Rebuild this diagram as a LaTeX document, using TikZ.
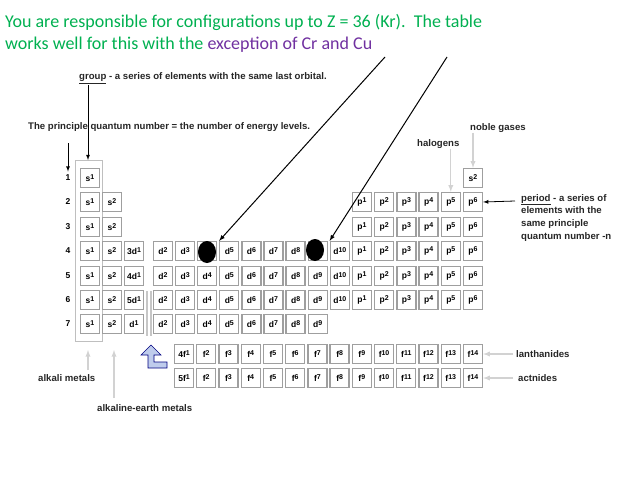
\documentclass[tikz,border=0pt]{standalone}
\usepackage{fontspec}
\setmainfont{Carlito}
\newfontfamily\lab{Liberation Sans}
\newcommand{\sx}[2]{#1\raisebox{2.5pt}{\fontsize{7}{7}\selectfont #2}}
\begin{document}
\begin{tikzpicture}[x=1pt,y=-1pt,
  cell/.style={draw=gray!75,line width=1.3pt,minimum width=19pt,minimum height=19pt,inner sep=0pt,font=\lab\bfseries\fontsize{8.5}{9}\selectfont,fill=white},
  lbl/.style={font=\lab\bfseries\fontsize{9.6}{11}\selectfont,inner sep=0pt,anchor=west,text=black!85},
  garr/.style={draw=gray!35,line width=1.3pt,-latex},
  barr/.style={draw=black,line width=0.8pt,-latex}]
\useasboundingbox (0,0) rectangle (638,479);
\definecolor{tgreen}{RGB}{0,176,80}
\definecolor{tpurple}{RGB}{112,48,160}
\node[anchor=west,inner sep=0pt,text=tgreen,font=\fontsize{18}{20}\selectfont] (t1) at (5,22) {You are responsible for configurations up to Z = 36 (Kr).\ \ The table};
\node[anchor=west,inner sep=0pt,text=tgreen,font=\fontsize{18}{20}\selectfont] (t2) at (5,45) {works well for this with the \textcolor{tpurple}{exception of Cr and Cu}};
% alkali outline
\draw[gray!50,line width=0.8pt] (75,160) rectangle (102,341);
% rows labels
\foreach \r/\y in {1/178,2/202,3/227,4/251,5/276,6/300,7/324}{
  \node[font=\lab\bfseries\fontsize{8.5}{9}\selectfont] (n\r) at (68,\y) {\r};}
% s block
\foreach \r/\y in {1/178,2/202,3/227,4/251,5/276,6/300,7/324}{
  \node[cell] (sa\r) at (90,\y) {\sx{s}{1}};}
\foreach \r/\y in {2/202,3/227,4/251,5/276,6/300,7/324}{
  \node[cell] (sb\r) at (112,\y) {\sx{s}{2}};}
\node[cell] (dd4) at (134,251) {\sx{3d}{1}};
\node[cell] (dd5) at (134,276) {\sx{4d}{1}};
\node[cell] (dd6) at (134,300) {\sx{5d}{1}};
\node[cell] (dd7) at (134,324) {\sx{d}{1}\hspace{4pt}};
% d block
\foreach \r/\y in {4/251,5/276,6/300}{
  \foreach \k in {2,...,10}{
    \node[cell] (d\r-\k) at ({163+22.1*(\k-2)},\y) {\sx{d}{\k}};}}
\foreach \k in {2,...,9}{
  \node[cell] (d7-\k) at ({163+22.1*(\k-2)},324) {\sx{d}{\k}};}
% p block
\foreach \r/\y in {2/202,3/227,4/251,5/276,6/300}{
  \foreach \k in {1,...,6}{
    \node[cell] (p\r-\k) at ({362+22.2*(\k-1)},\y) {\sx{p}{\k}};}}
\node[cell] (he) at (473,178) {\sx{s}{2}};
% gray bars
\fill[gray!45] (146,291) rectangle (148,336);
\fill[gray!45] (150,291) rectangle (152,336);
% f block
\node[cell] (fa1) at (184,354) {\sx{4f}{1}};
\node[cell] (fb1) at (184,378) {\sx{5f}{1}};
\foreach \k in {2,...,14}{
  \node[cell] (fa\k) at ({184+22.23*(\k-1)},354) {\sx{f}{\k}};
  \node[cell] (fb\k) at ({184+22.23*(\k-1)},378) {\sx{f}{\k}};}
% blue L arrow
\draw[fill=cyan!45!blue!25,draw=blue!50!black,line width=0.6pt]
 (148,355) -- (141,355) -- (151,345) -- (161,355) -- (154,355) -- (154,362) -- (167,362) -- (167,368) -- (148,368) -- cycle;
% blobs
\fill[black] (207,252) ellipse (9pt and 11pt);
\fill[black] (315,250) ellipse (9pt and 11pt);
% labels
\node[lbl] (grp) at (79,78) {\underline{group} - a series of elements with the same last orbital.};
\node[lbl] (pqn) at (28,127) {The principle quantum number = the number of energy levels.};
\coordinate (pqa) at (68,143);
\coordinate (ga) at (88,85);
\coordinate (gb) at (88,160);
\draw[barr] (pqa) -- (n1.north);
\draw[barr] (ga) -- (gb);
\node[lbl] (hal) at (417,144) {halogens};
\node[lbl] (nob) at (470,128) {noble gases};
\draw[garr] (hal.south -| p2-5.north) -- (p2-5.north);
\draw[garr] (nob.south -| he.north) -- (he.north);
\node[lbl,align=left,anchor=north west,font=\lab\bfseries\fontsize{9.6}{12.7}\selectfont] (per) at (521,194) {\underline{period} - a series of\\elements with the\\same principle\\quantum number -n};
\coordinate (pa) at (515,201);
\draw[barr] (pa) -- (p2-6.east);
\node[lbl] (lan) at (516,354) {lanthanides};
\node[lbl] (act) at (518,378) {actnides};
\draw[garr] (lan.west)++(-3,0) -- (fa14.east);
\draw[garr] (act.west)++(-5,0) -- (fb14.east);
\node[lbl] (alk) at (38,378) {alkali metals};
\node[lbl] (ae) at (97,408) {alkaline-earth metals};
\coordinate (aa) at (88,370);
\coordinate (ab) at (88,350);
\coordinate (ea) at (114,398);
\coordinate (eb) at (114,350);
\draw[garr] (aa) -- (ab);
\draw[garr] (ea) -- (eb);
% arrows from heading
\coordinate (c1) at (385,57);
\coordinate (c2) at (447,57);
\draw[barr,line width=1pt] (c1) -- (d4-5.north west);
\draw[barr,line width=1pt] (c2) -- (d4-10.north west);
\end{tikzpicture}
\end{document}
